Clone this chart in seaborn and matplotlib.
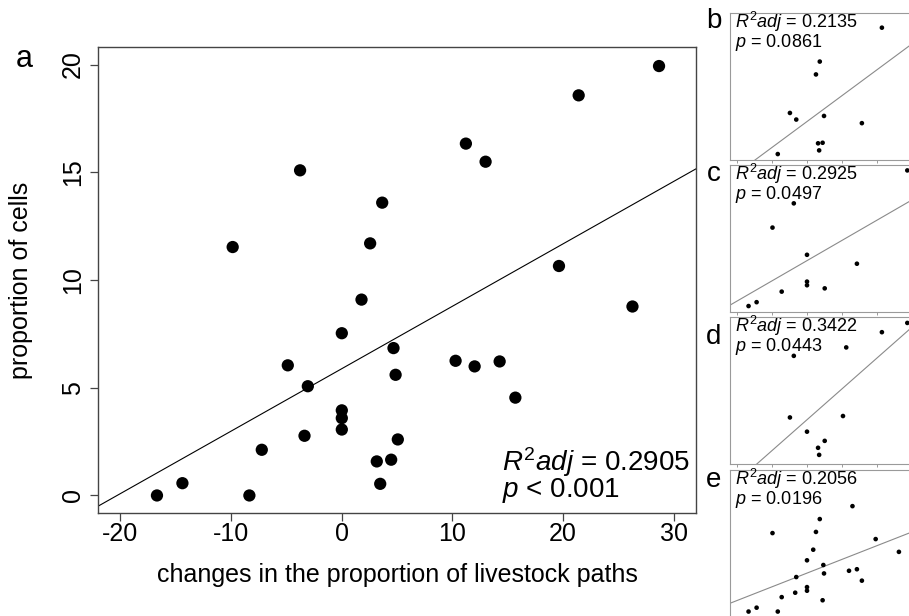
import numpy as np
import pandas as pd
import seaborn as sns
import matplotlib
matplotlib.use("Agg")
import matplotlib.pyplot as plt

# ---------------- data ----------------
# main panel (a): all cells
a_x = [-16.7, -14.4, -8.35, -7.23, -4.88, -3.37, -3.07, 1.78, 0.0, 0.0, 0.0, 0.0,
       4.67, 4.86, 5.06, 3.16, 4.46, 3.47, -9.86, -3.77, 2.56, 3.65, 11.21, 12.99,
       21.40, 28.66, 19.62, 10.28, 12.0, 14.26, 15.68, 26.26]
a_y = [0.0, 0.57, 0.0, 2.12, 6.04, 2.77, 5.07, 9.09, 7.53, 3.95, 3.59, 3.06,
       6.84, 5.60, 2.60, 1.58, 1.66, 0.54, 11.53, 15.09, 11.70, 13.59, 16.33, 15.49,
       18.57, 19.93, 10.65, 6.25, 5.99, 6.22, 4.54, 8.77]

b_x = [21.40, 3.65, 2.56, -4.88, -3.07, 4.86, 15.68, 3.16, 4.46, 3.47, -8.35]
b_y = [18.57, 13.59, 11.70, 6.04, 5.07, 5.60, 4.54, 1.58, 1.66, 0.54, 0.0]

c_x = [28.66, -3.77, -9.86, 0.0, 14.26, 0.0, 0.0, 5.06, -7.23, -14.4, -16.7]
c_y = [19.93, 15.09, 11.53, 7.53, 6.22, 3.59, 3.06, 2.60, 2.12, 0.57, 0.0]

d_x = [28.66, 21.40, 11.21, -3.77, -4.88, 10.28, 0.0, 5.06, 3.16, 3.47]
d_y = [19.93, 18.57, 16.33, 15.09, 6.04, 6.25, 3.95, 2.60, 1.58, 0.54]

e_x = [12.99, 3.65, -9.86, 2.56, 19.62, 1.78, 26.26, 0.0, 4.67, 12.0, 14.26,
       -3.07, 4.86, 15.68, 0.0, 0.0, -7.23, -3.37, 4.46, -14.4, -16.7, -8.35]
e_y = [15.49, 13.59, 11.53, 11.70, 10.65, 9.09, 8.77, 7.53, 6.84, 5.99, 6.22,
       5.07, 5.60, 4.54, 3.59, 3.06, 2.12, 2.77, 1.66, 0.57, 0.0, 0.0]

panel_labels = ["b", "c", "d", "e"]
panel_r2 = ["0.2135", "0.2925", "0.3422", "0.2056"]
panel_p = ["0.0861", "0.0497", "0.0443", "0.0196"]

x_ticks = [-20, -10, 0, 10, 20, 30]
y_ticks = [0, 5, 10, 15, 20]

# ---------------- style ----------------
sns.set_style("ticks")
plt.rcParams["font.family"] = ["Liberation Sans", "DejaVu Sans"]
plt.rcParams["mathtext.fontset"] = "custom"
plt.rcParams["mathtext.rm"] = "Liberation Sans"
plt.rcParams["mathtext.it"] = "Liberation Sans:italic"
plt.rcParams["axes.unicode_minus"] = False
plt.rcParams["text.color"] = "black"
plt.rcParams["axes.labelcolor"] = "black"
plt.rcParams["xtick.labelcolor"] = "black"
plt.rcParams["ytick.labelcolor"] = "black"

W, H = 909, 616
fig = plt.figure(figsize=(W / 100, H / 100), dpi=100)

def px_axes(left, top, right, bottom):
    return fig.add_axes([left / W, 1 - bottom / H, (right - left) / W, (bottom - top) / H])

# ---------------- main panel ----------------
ax = px_axes(98.3, 47.3, 696, 512.7)
ax.set_xlim(-22, 32)
ax.set_ylim(-0.8, 20.8)
dfa = pd.DataFrame({"x": a_x, "y": a_y})
sns.scatterplot(data=dfa, x="x", y="y", ax=ax, s=78, color="black", edgecolor="none", zorder=3)
sns.regplot(data=dfa, x="x", y="y", ax=ax, scatter=False, ci=None, truncate=False,
            line_kws={"color": "black", "lw": 0.8})
ax.set_xlim(-22, 32)
ax.set_ylim(-0.8, 20.8)
ax.set_xticks(x_ticks)
ax.set_xticklabels([str(t) for t in x_ticks])
ax.set_yticks(y_ticks)
ax.set_yticklabels([str(t) for t in y_ticks], rotation=90, va="center")
ax.tick_params(axis="both", direction="out", length=5.5, width=0.9, color="#444444",
               labelsize=18, labelcolor="black")
ax.tick_params(axis="x", pad=1.5)
ax.tick_params(axis="y", pad=4)
for sp in ax.spines.values():
    sp.set_visible(True)
    sp.set_color("#444444")
    sp.set_linewidth(1.0)
ax.set_xlabel("changes in the proportion of livestock paths", fontsize=18, color="black")
ax.set_ylabel("proportion of cells", fontsize=18, color="black")
ax.xaxis.set_label_coords(0.5, -0.108)
ax.xaxis.label.set_va("top")
ax.yaxis.set_label_coords(-0.11, 0.5)
ax.text(14.45, 1.15, r"$R^2adj$ = 0.2905", fontsize=20, ha="left", va="baseline", color="black")
ax.text(14.45, -0.09, r"$p$ < 0.001", fontsize=20, ha="left", va="baseline", color="black")
fig.text(24.5 / W, 1 - 67.3 / H, "a", fontsize=22, ha="center", va="baseline", color="black")

# ---------------- small panels ----------------
tops = [12.5, 164.5, 317, 470]
sub_x = [b_x, c_x, d_x, e_x]
sub_y = [b_y, c_y, d_y, e_y]
letter_base = [28.3, 181, 344, 486.7]
for i in range(4):
    t = tops[i]
    sax = px_axes(730, t, 919, t + 147)
    sax.set_xlim(-22, 32)
    sax.set_ylim(-0.8, 20.8)
    df = pd.DataFrame({"x": sub_x[i], "y": sub_y[i]})
    sns.scatterplot(data=df, x="x", y="y", ax=sax, s=11, color="black", edgecolor="none", zorder=3)
    sns.regplot(data=df, x="x", y="y", ax=sax, scatter=False, ci=None, truncate=False,
                line_kws={"color": "#8a8a8a", "lw": 0.8})
    sax.set_xlim(-22, 32)
    sax.set_ylim(-0.8, 20.8)
    sax.set_xticks(x_ticks)
    sax.set_xticklabels([])
    sax.set_yticks([])
    sax.set_xlabel("")
    sax.set_ylabel("")
    sax.tick_params(axis="x", direction="out", length=2.2, width=0.7, color="#9a9a9a")
    for sp in sax.spines.values():
        sp.set_visible(True)
        sp.set_color("#9a9a9a")
        sp.set_linewidth(0.8)
    sax.text(0.0265, 0.897, r"$R^2adj$ = " + panel_r2[i], transform=sax.transAxes,
             fontsize=13, ha="left", va="baseline", color="black")
    sax.text(0.0265, 0.768, r"$p$ = " + panel_p[i], transform=sax.transAxes,
             fontsize=13, ha="left", va="baseline", color="black")
    fig.text(714 / W, 1 - letter_base[i] / H, panel_labels[i], fontsize=20,
             ha="center", va="baseline", color="black")

fig.savefig("out.png", dpi=100)
